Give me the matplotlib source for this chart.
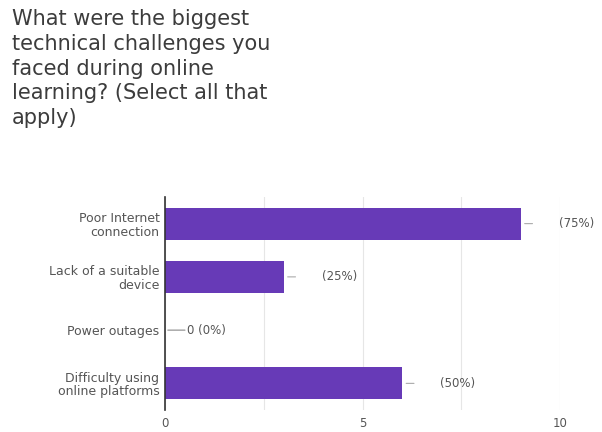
import matplotlib
matplotlib.use("Agg")
import matplotlib.pyplot as plt
from matplotlib.ticker import MultipleLocator

plt.rcParams['font.family'] = ['DejaVu Sans']

title = "What were the biggest\ntechnical challenges you\nfaced during online\nlearning? (Select all that\napply)"
categories = ["Poor Internet\nconnection", "Lack of a suitable\ndevice", "Power outages",
              "Difficulty using\nonline platforms"]
counts = [9, 3, 0, 6]
value_labels = ["(75%)", "(25%)", "0 (0%)", "(50%)"]
xticks = [0, 5, 10]

W, H = 602, 432
fig = plt.figure(figsize=(W/100, H/100), dpi=100)
fig.text(12/W, 1 - 9/H, title, ha='left', va='top', fontsize=15, color='#3c3c3c',
         linespacing=1.3)

ax = fig.add_axes([165/W, 1 - 410/H, (560-165)/W, (410-197)/H])
ypos = list(range(len(categories)))
ax.barh(ypos, counts, height=0.6, color='#673ab7', zorder=3)
ax.set_ylim(len(categories) - 0.5, -0.5)
ax.set_xlim(0, 10)
ax.set_yticks(ypos)
ax.set_yticklabels(categories, fontsize=9, color='#555555', ha='right', linespacing=1.05)
ax.set_xticks(xticks)
ax.set_xticklabels([str(t) for t in xticks], fontsize=8.5, color='#555555')
ax.xaxis.set_minor_locator(MultipleLocator(2.5))
ax.grid(axis='x', which='both', color='#e6e6e6', lw=0.8, zorder=0)
ax.tick_params(axis='both', which='both', length=0)
ax.tick_params(axis='x', pad=5)
ax.tick_params(axis='y', pad=4)
for s in ['top', 'right', 'bottom']:
    ax.spines[s].set_visible(False)
ax.spines['left'].set_color('#333333')
ax.spines['left'].set_linewidth(1.2)
ax.spines['left'].set_zorder(4)

for y, c, lab in zip(ypos, counts, value_labels):
    if c == 0:
        ax.annotate('', xy=(c, y), xytext=(20, 0), textcoords='offset pixels',
                    arrowprops=dict(arrowstyle='-', color='#888888', lw=0.8,
                                    shrinkA=0, shrinkB=2))
        ax.annotate(lab, xy=(c, y), xytext=(22, 0), textcoords='offset pixels',
                    va='center', ha='left', fontsize=8.5, color='#555555',
                    annotation_clip=False)
    else:
        ax.annotate('', xy=(c, y), xytext=(12, 0), textcoords='offset pixels',
                    arrowprops=dict(arrowstyle='-', color='#aaaaaa', lw=0.8,
                                    shrinkA=0, shrinkB=3))
        ax.annotate(lab, xy=(c, y), xytext=(38, 0), textcoords='offset pixels',
                    va='center', ha='left', fontsize=8.5, color='#555555',
                    annotation_clip=False)

fig.savefig('out.png', dpi=100)
